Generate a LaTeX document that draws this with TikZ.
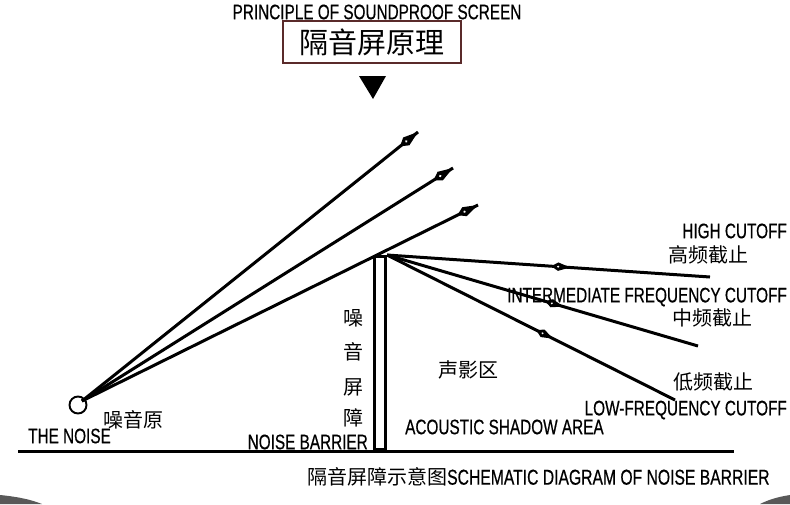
\documentclass[tikz,border=0pt]{standalone}
\usepackage{fontspec}
\setmainfont{Liberation Sans}[FakeStretch=0.73, FakeBold=0.5]
\newfontfamily\cjk{Noto Sans CJK SC}
\usetikzlibrary{decorations.markings}
\definecolor{boxbrown}{HTML}{5A2A2A}
\newcommand\kitehead{\fill (-8pt,0pt) -- (0pt,5pt) -- (15pt,0pt) -- (0pt,-5pt) -- cycle; \fill[white] (0pt,0pt) circle (1.3pt);}
\newcommand\kitesmall{\fill (-7pt,0pt) -- (0pt,4.2pt) -- (12pt,0pt) -- (0pt,-4.2pt) -- cycle; \fill[white] (0pt,0pt) circle (1.1pt);}
\tikzset{
  latin/.style={font=\fontsize{21}{21}\selectfont, inner sep=0pt},
  cn/.style={font=\cjk\fontsize{20}{20}\selectfont, inner sep=0pt},
  ray/.style={line width=3pt, postaction=decorate,
    decoration={markings, mark=at position -15pt with {\kitehead}}},
  dray/.style={line width=3pt, postaction=decorate,
    decoration={markings, mark=at position #1 with {\kitesmall}}},
}
\begin{document}
\begin{tikzpicture}[x=1pt,y=-1pt]
\useasboundingbox (0,0) rectangle (790,504);
% header
\node[latin] (title) at (377,12) {PRINCIPLE OF SOUNDPROOF SCREEN};
\node[draw=boxbrown, line width=1.2pt, minimum width=178pt, minimum height=42pt, inner sep=0pt,
  font=\cjk\fontsize{29}{29}\selectfont] (box) at (372,42) {隔音屏原理};
\fill (359,76) -- (386,76) -- (373,99) -- cycle;
% ground
\coordinate (g1) at (18,451);
\coordinate (g2) at (734,451);
\draw[line width=3pt] (g1) -- (g2);
% barrier
\node[draw, line width=3pt, minimum width=11pt, minimum height=193pt, inner sep=0pt, anchor=south] (bar) at (380,451) {};
% source
\node[circle, draw, line width=1.9pt, minimum size=17pt, inner sep=0pt] (src) at (78,405) {};
\coordinate (s) at (82,401);
\coordinate (e1) at (418,132);
\coordinate (e2) at (453,168);
\coordinate (e3) at (478,205);
\draw[ray] (s) -- (e1);
\draw[ray] (s) -- (e2);
\draw[ray] (s) -- (e3);
% diffracted
\coordinate (d1) at (710,277);
\coordinate (d2) at (698,346);
\coordinate (d3) at (675,400);
\draw[dray=0.53] (bar.north east) -- (d1);
\draw[dray=0.53] (bar.north east) -- (d2);
\draw[dray=0.54] (bar.north east) -- (d3);
% labels
\node[latin, anchor=east] (hc) at (787,231) {HIGH CUTOFF};
\node[cn] (hccn) at (708,255) {高频截止};
\node[latin, anchor=east] (ic) at (787,297) {INTERMEDIATE FREQUENCY CUTOFF};
\node[cn] (iccn) at (712,318) {中频截止};
\node[cn] (lccn) at (713,382) {低频截止};
\node[latin, anchor=east] (lc) at (787,410) {LOW-FREQUENCY CUTOFF};
\node[cn] (shcn) at (468,370) {声影区};
\node[latin, anchor=west] (sh) at (405,427) {ACOUSTIC SHADOW AREA};
\node[cn, anchor=west] (srccn) at (103,420) {噪音原};
\node[latin, anchor=west] (srcen) at (28,436) {THE NOISE};
\node[cn] (v1) at (353,318) {噪};
\node[cn] (v2) at (353,352) {音};
\node[cn] (v3) at (353,387) {屏};
\node[cn] (v4) at (353,418) {障};
\node[latin, anchor=east] (nb) at (368,442) {NOISE BARRIER};
\node[anchor=west, inner sep=0pt] (cap) at (307,477) {{\cjk\fontsize{20}{20}\selectfont 隔音屏障示意图}{\fontsize{21.5}{21.5}\selectfont SCHEMATIC DIAGRAM OF NOISE BARRIER}};
% corner shading
\fill[black!65] (0,495) .. controls (20,497) and (32,500) .. (42,504) -- (0,504) -- cycle;
\fill[black!65] (790,495) .. controls (777,497) and (768,500) .. (760,504) -- (790,504) -- cycle;
\end{tikzpicture}
\end{document}
